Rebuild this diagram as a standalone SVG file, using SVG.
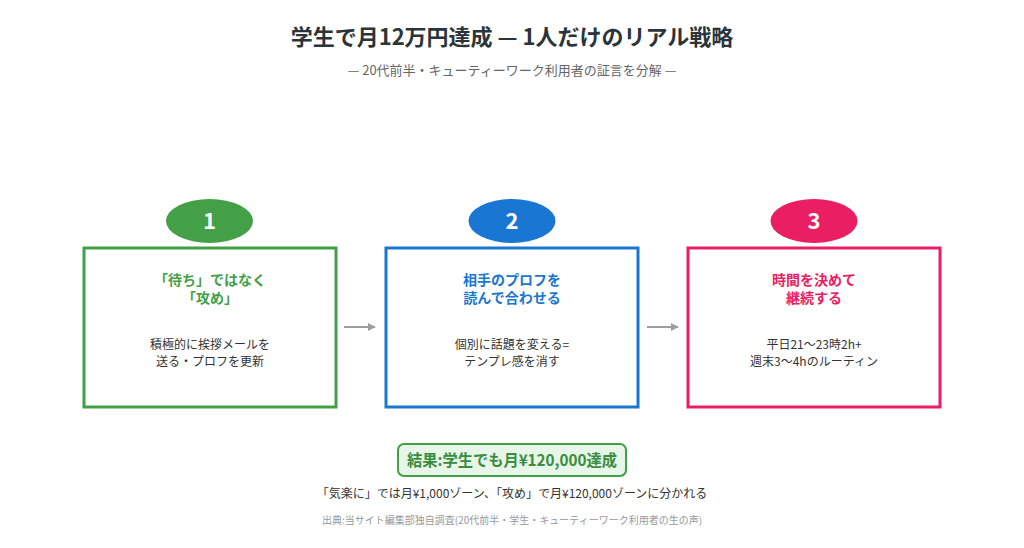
<svg xmlns="http://www.w3.org/2000/svg" width="1024" height="548" viewBox="0 0 1024 548">
<defs>
<style>
text{font-family:"Noto Sans CJK JP","Noto Sans",sans-serif;text-anchor:middle}
.title{font-size:22px;font-weight:700;fill:#2b3539}
.sub{font-size:13px;fill:#666}
.num{font-size:22px;font-weight:700;fill:#fff}
.head{font-size:14px;font-weight:700}
.body{font-size:12px;fill:#333}
.box{fill:#fff;stroke-width:3}
.conn{stroke:#9e9e9e;stroke-width:2;fill:none}
</style>
<marker id="ah" viewBox="0 0 10 10" refX="9" refY="5" markerWidth="4" markerHeight="4" orient="auto"><path d="M0,0L10,5L0,10z" fill="#9e9e9e"/></marker>
</defs>
<rect width="1024" height="548" fill="#fff"/>
<text class="title" x="512" y="45">学生で月12万円達成 — 1人だけのリアル戦略</text>
<text class="sub" x="512" y="75">— 20代前半・キューティーワーク利用者の証言を分解 —</text>
<g id="step1">
<rect class="box" x="84" y="248" width="252" height="159" stroke="#43a047"/>
<ellipse cx="209.5" cy="221" rx="43.5" ry="22" fill="#43a047"/>
<text class="num" x="209.5" y="229">1</text>
<text class="head" x="210" y="285" fill="#43a047">「待ち」ではなく</text>
<text class="head" x="210" y="303" fill="#43a047">「攻め」</text>
<text class="body" x="210" y="349">積極的に挨拶メールを</text>
<text class="body" x="210" y="366">送る・プロフを更新</text>
</g>
<g id="step2">
<rect class="box" x="386" y="248" width="252" height="159" stroke="#1976d2"/>
<ellipse cx="512" cy="221" rx="43.5" ry="22" fill="#1976d2"/>
<text class="num" x="512" y="229">2</text>
<text class="head" x="512" y="285" fill="#1976d2">相手のプロフを</text>
<text class="head" x="512" y="303" fill="#1976d2">読んで合わせる</text>
<text class="body" x="512" y="349">個別に話題を変える=</text>
<text class="body" x="512" y="366">テンプレ感を消す</text>
</g>
<g id="step3">
<rect class="box" x="688" y="248" width="252" height="159" stroke="#e91e63"/>
<ellipse cx="814" cy="221" rx="43.5" ry="22" fill="#e91e63"/>
<text class="num" x="814" y="229">3</text>
<text class="head" x="814" y="285" fill="#e91e63">時間を決めて</text>
<text class="head" x="814" y="303" fill="#e91e63">継続する</text>
<text class="body" x="814" y="349">平日21〜23時2h+</text>
<text class="body" x="814" y="366">週末3〜4hのルーティン</text>
</g>
<g id="connectors">
<line class="conn" x1="344" y1="327" x2="375" y2="327" marker-end="url(#ah)"/>
<line class="conn" x1="647" y1="327" x2="678" y2="327" marker-end="url(#ah)"/>
</g>
<g id="result">
<rect x="398" y="444" width="228" height="32" rx="6" fill="#e8f5e9" stroke="#43a047" stroke-width="2"/>
<text x="512" y="466" textLength="210" lengthAdjust="spacingAndGlyphs" style="font-size:16px;font-weight:700;fill:#388e3c">結果:学生でも月¥120,000達成</text>
</g>
<text class="body" x="512" y="498" style="font-size:12px">「気楽に」では月¥1,000ゾーン、「攻め」で月¥120,000ゾーンに分かれる</text>
<text x="512" y="524" style="font-size:10px;fill:#999">出典:当サイト編集部独自調査(20代前半・学生・キューティーワーク利用者の生の声)</text>
</svg>
